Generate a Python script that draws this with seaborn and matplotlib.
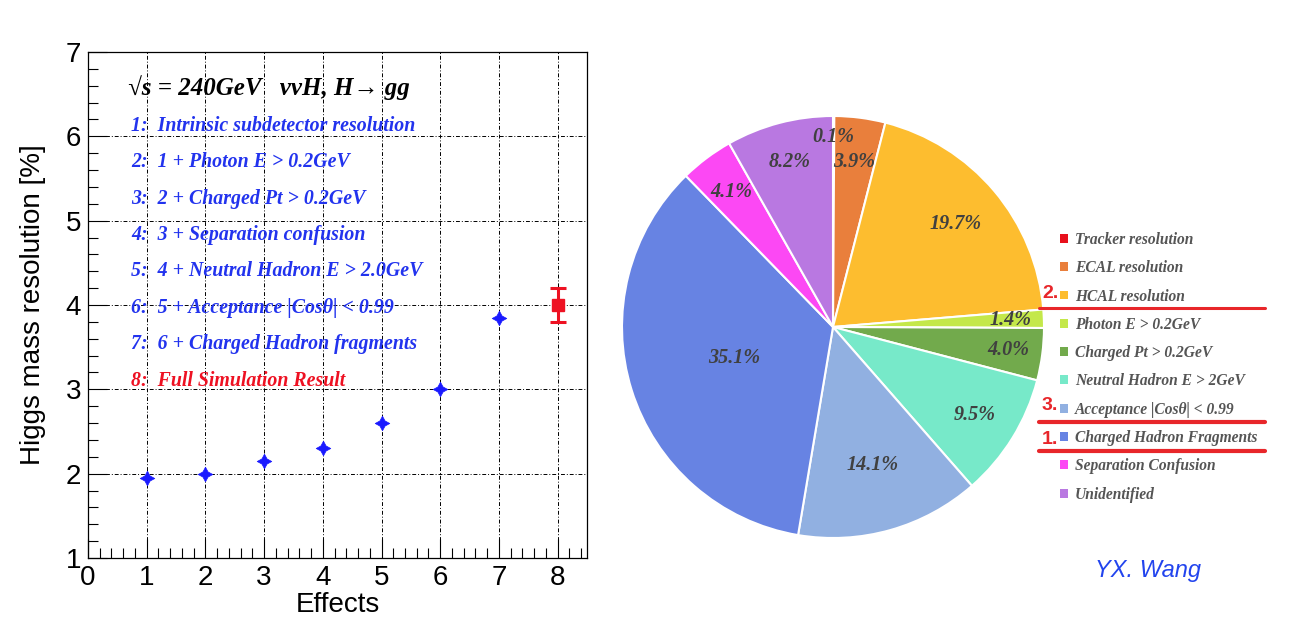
import numpy as np
import pandas as pd
import matplotlib
matplotlib.use("Agg")
import matplotlib.pyplot as plt
import seaborn as sns
from matplotlib.patches import Patch
from matplotlib.ticker import MultipleLocator

# Left panel: resolution vs. effects
effects = [1, 2, 3, 4, 5, 6, 7]
resolution = [1.95, 2.0, 2.15, 2.3, 2.6, 3.0, 3.85]
full_sim_x = [8]
full_sim_y = [4.0]
full_sim_err = [0.2]

header = "√s = 240GeV   ννH, H→ gg"
effect_lines = [
    "1:  Intrinsic subdetector resolution",
    "2:  1 + Photon E > 0.2GeV",
    "3:  2 + Charged Pt > 0.2GeV",
    "4:  3 + Separation confusion",
    "5:  4 + Neutral Hadron E > 2.0GeV",
    "6:  5 + Acceptance |Cosθ| < 0.99",
    "7:  6 + Charged Hadron fragments",
    "8:  Full Simulation Result",
]

# Right panel: pie of contributions
pie_names = ["Tracker resolution", "ECAL resolution", "HCAL resolution",
             "Photon E > 0.2GeV", "Charged Pt > 0.2GeV", "Neutral Hadron E > 2GeV",
             "Acceptance |Cosθ| < 0.99", "Charged Hadron Fragments",
             "Separation Confusion", "Unidentified"]
pie_values = [0.1, 3.9, 19.7, 1.4, 4.0, 9.5, 14.1, 35.1, 4.1, 8.2]
pie_colors = ["#e8101c", "#e97f3c", "#fdbd2f", "#c4e84a", "#72aa4c",
              "#77e9c9", "#91b0e1", "#6783e3", "#fc48f4", "#b978e1"]
label_radius = [0.9, 0.79, 0.76, 0.84, 0.84, 0.79, 0.68, 0.49, 0.80, 0.81]

sns.set_theme(style="ticks")
plt.rcParams['font.family'] = ['Liberation Sans', 'DejaVu Sans']

fig = plt.figure(figsize=(13.03, 6.33), dpi=100)

# ---- left plot
ax = fig.add_axes([88/1303, 1-558/633, 499/1303, 506/633])
df = pd.DataFrame({"effect": effects, "res": resolution})
sns.scatterplot(data=df, x="effect", y="res", ax=ax, marker=(4, 1, 0), s=110,
                color="#1a1aff", edgecolor="#1a1aff", linewidth=0.5, zorder=5)
ax.errorbar(full_sim_x, full_sim_y, yerr=full_sim_err, fmt="s", color="#ee1122",
            ms=9, elinewidth=2.2, capsize=6, capthick=2.2, zorder=6)

ax.set_xlim(0, 8.5)
ax.set_ylim(1, 7)
ax.xaxis.set_major_locator(MultipleLocator(1))
ax.xaxis.set_minor_locator(MultipleLocator(0.2))
ax.yaxis.set_major_locator(MultipleLocator(1))
ax.yaxis.set_minor_locator(MultipleLocator(0.2))
ax.tick_params(which="both", direction="in", top=False, right=False,
               labelsize=20, colors="black")
ax.tick_params(which="major", length=14, width=0.8, pad=5)
ax.tick_params(which="minor", length=7, width=0.8)
ax.grid(True, which="major", color="black", linestyle=(0, (4, 2, 1, 2)), linewidth=0.7)
for sp in ax.spines.values():
    sp.set_color("black")
    sp.set_linewidth(0.9)
ax.set_xlabel("Effects", fontsize=20, color="black", labelpad=1)
ax.set_ylabel("Higgs mass resolution [%]", fontsize=20, color="black", labelpad=14)

ax.text(0.08, 0.929, header, transform=ax.transAxes, fontsize=18,
        family=["Liberation Serif", "DejaVu Serif"], style="italic",
        weight="bold", color="black", va="center")
for i, line in enumerate(effect_lines):
    ax.text(0.087, 0.854 - i*0.0719, line, transform=ax.transAxes, fontsize=14.3,
            family=["Liberation Serif", "DejaVu Serif"], style="italic", weight="bold",
            color="#ee1122" if i == 7 else "#2233ee", va="center")

# ---- pie
pax = fig.add_axes([622/1303, 1-538/633, 422/1303, 422/633])
wedges, _ = pax.pie(pie_values, colors=pie_colors, startangle=90, counterclock=False,
                    wedgeprops=dict(edgecolor="white", linewidth=1.5))
pax.set_xlim(-1, 1)
pax.set_ylim(-1, 1)
pax.set_aspect("equal")
pax.axis("off")
for w, v, r in zip(wedges, pie_values, label_radius):
    mid = np.deg2rad((w.theta1 + w.theta2) / 2)
    pax.text(r*np.cos(mid), r*np.sin(mid), f"{v:.1f}%", ha="center", va="center",
             fontsize=14.5, family=["Liberation Serif", "DejaVu Serif"],
             style="italic", weight="bold", color="#404040")

handles = [Patch(facecolor=c, edgecolor="none") for c in pie_colors]
leg = fig.legend(handles, pie_names, loc="upper left",
                 bbox_to_anchor=(1046/1303, 1-218/633), frameon=False,
                 handlelength=0.5, handleheight=0.5, handletextpad=0.45,
                 labelspacing=0.79,
                 prop=dict(family="Liberation Serif", style="italic",
                           weight="bold", size=11.2))
for t in leg.get_texts():
    t.set_color("#555555")

# red annotations on the legend
for y0, lw in [(308, 2.2), (422, 3.0), (451, 3.0)]:
    fig.add_artist(plt.Line2D([1039/1303, 1265/1303], [1-y0/633, 1-y0/633],
                              color="#e8262a", linewidth=lw))
for txt, y0 in [("2.", 294), ("3.", 405), ("1.", 440)]:
    fig.text(1042/1303, 1-y0/633, txt, color="#e8262a", fontsize=14,
             weight="bold", va="center")

fig.text(1095/1303, 1-570/633, "YX. Wang", color="#2244ee", fontsize=17,
         style="italic", va="center")

fig.savefig("out.png", dpi=100)
